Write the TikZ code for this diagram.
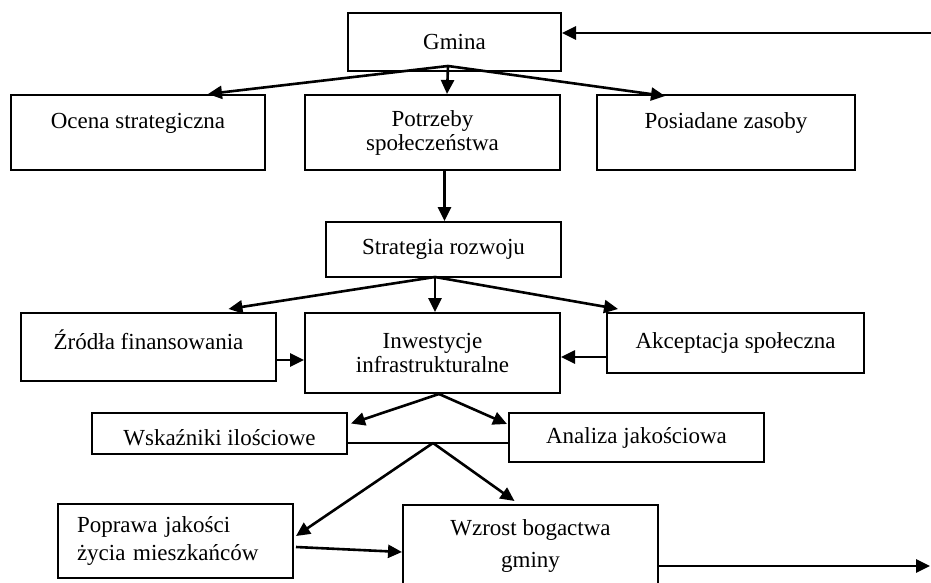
\documentclass[tikz,border=0pt]{standalone}
\usepackage{fontspec}
\setmainfont{Liberation Serif}
\usetikzlibrary{arrows.meta,calc}

\begin{document}
\begin{tikzpicture}[x=1pt,y=-1pt,font=\fontsize{23}{24}\selectfont,
  box/.style={draw,line width=2pt,inner sep=0pt,align=center},
  arr/.style={line width=2.6pt,-{Triangle[length=14pt,width=13pt]}}]
  \useasboundingbox (0,0) rectangle (931,583);
  \clip (0,0) rectangle (931,583);

  \node[box,minimum width=213pt,minimum height=58pt] (gmina) at (454.5,42) {Gmina};
  \node[box,minimum width=254pt,minimum height=75pt] (ocena) at (138,132.5) {Ocena strategiczna\\~};
  \node[box,minimum width=255pt,minimum height=75pt] (potrzeby) at (432.5,132.5) {Potrzeby\\społeczeństwa};
  \node[box,minimum width=258pt,minimum height=75pt] (zasoby) at (726,132.5) {Posiadane zasoby\\~};
  \node[box,minimum width=235pt,minimum height=55pt] (strategia) at (443.5,249.5) {Strategia rozwoju};
  \node[box,minimum width=255pt,minimum height=68pt,text depth=14pt] (zrodla) at (148.5,347) {Źródła finansowania};
  \node[box,minimum width=255pt,minimum height=80pt] (inwestycje) at (432.5,353) {Inwestycje\\infrastrukturalne};
  \node[box,minimum width=257pt,minimum height=60pt] (akceptacja) at (735.5,343) {Akceptacja społeczna};
  \node[box,minimum width=255pt,minimum height=41pt,text height=23pt,text depth=0pt] (wskazniki) at (219.5,433.5) {Wskaźniki ilościowe};
  \node[box,minimum width=255pt,minimum height=49pt] (analiza) at (636.5,437.5) {Analiza jakościowa};
  \node[box,minimum width=235pt,minimum height=74pt,align=left,text width=197pt] (poprawa) at (175.5,541) {Poprawa jakości\\[4pt]życia mieszkańców};
  \node[box,minimum width=255pt,minimum height=82pt] (wzrost) at (530.5,546) {Wzrost bogactwa\\[8pt]gminy};

  \coordinate (g0) at (448,66);
  \coordinate (s0) at (435,277);
  \coordinate (i0) at (439,394);
  \coordinate (w0) at (433,443);
  \coordinate (back) at (931,33);
  \coordinate (out) at (930,566);

  \draw[arr] (back) -- (gmina.east |- back);
  \draw[arr] (g0) -- ($(ocena.north)+(70,0)$);
  \draw[arr] (g0) -- ($(potrzeby.north)+(14.5,0)$);
  \draw[arr] (g0) -- ($(zasoby.north)+(-61,2)$);
  \draw[arr] ($(potrzeby.south)+(12,0)$) -- ($(strategia.north)+(1,0)$);

  \draw[arr] (s0) -- ($(zrodla.north)+(80,-3)$);
  \draw[arr] (s0) -- ($(inwestycje.north)+(2.5,0)$);
  \draw[arr] (s0) -- ($(akceptacja.north)+(-117.5,-3)$);
  \draw[arr] ($(zrodla.east)+(0,13)$) -- ($(inwestycje.west)+(0,7)$);
  \draw[arr] ($(akceptacja.west)+(0,14)$) -- ($(inwestycje.east)+(0,4)$);

  \draw[arr] (i0) -- ($(wskazniki.east)+(3,-10)$);
  \draw[arr] (i0) -- ($(analiza.west)+(-1,-13.5)$);
  \draw[line width=1.2pt] ($(wskazniki.east)+(0,9.5)$) -- ($(analiza.west)+(0,5.5)$);
  \draw[arr] (w0) -- ($(poprawa.east)+(2,-5)$);
  \draw[arr] (w0) -- ($(wzrost.north)+(-16,-3)$);
  \draw[arr] ($(poprawa.east)+(2,6)$) -- ($(wzrost.west)+(0,6)$);
  \draw[arr] (out -| wzrost.east) -- (out);
\end{tikzpicture}
\end{document}
